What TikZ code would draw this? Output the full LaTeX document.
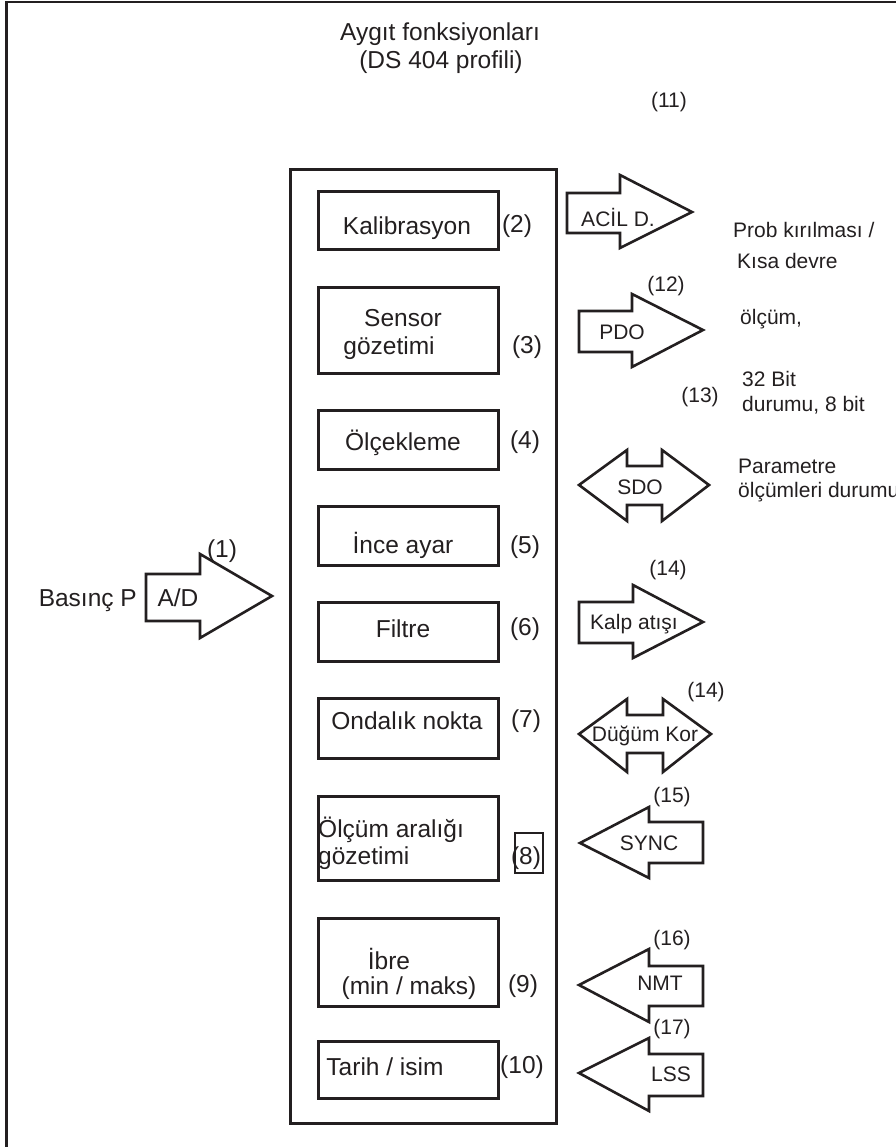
\documentclass[tikz,border=0pt]{standalone}
\usepackage{fontspec}
\setmainfont{Liberation Sans}
\definecolor{ink}{HTML}{231F20}
\newcommand\myRarrow[8]{\draw[arr] (#1,#2) -- (#4,#2) -- (#4,#5) -- (#7,#8) -- (#4,#6) -- (#4,#3) -- (#1,#3) -- cycle;}
\newcommand\myLarrow[8]{\draw[arr] (#1,#2) -- (#3,#4) -- (#3,#5) -- (#8,#5) -- (#8,#6) -- (#3,#6) -- (#3,#7) -- cycle;}
\newcommand\myDarrow[9]{\draw[arr] (#1,#2) -- (#3,#7) -- (#3,#5) -- (#4,#5) -- (#4,#7) -- (#9,#2) -- (#4,#8) -- (#4,#6) -- (#3,#6) -- (#3,#8) -- cycle;}
\begin{document}
\begin{tikzpicture}[x=1pt,y=-1pt,
  bigt/.style={font=\fontsize{24.5}{29}\selectfont, text=ink, inner sep=0pt, text height=17.6pt, text depth=0pt},
  bign/.style={font=\fontsize{24.5}{29}\selectfont, text=ink, inner sep=0pt, text height=17.9pt, text depth=5.1pt},
  smt/.style={font=\fontsize{21}{25}\selectfont, text=ink, inner sep=0pt, text height=15.1pt, text depth=0pt},
  smn/.style={font=\fontsize{21}{25}\selectfont, text=ink, inner sep=0pt, text height=15.3pt, text depth=4.4pt},
  fbox/.style={draw=ink, line width=2.6pt, anchor=north west, minimum width=180pt, inner sep=0pt},
  arr/.style={draw=ink, line width=2.6pt, fill=white, line join=miter}]
\useasboundingbox (0,0) rectangle (895,1147);
% outer frame (top and left)
\draw[draw=ink, line width=2.4pt] (6.5,1150) -- (6.5,2) -- (900,2);
% title
\node[bigt] (title1) at (440,32) {Aygıt fonksiyonları};
\node[bign] (title2) at (441,62) {(DS 404 profili)};
\node[smn] (n11) at (669,102) {(11)};
% main box
\node[draw=ink, line width=2.6pt, anchor=north west, minimum width=266pt, minimum height=954pt, inner sep=0pt] (main) at (289,168) {};
% inner boxes
\node[fbox, minimum height=58pt] (b2) at (317,190) {};
\node[fbox, minimum height=86pt] (b3) at (317,286) {};
\node[fbox, minimum height=59pt] (b4) at (317,409) {};
\node[fbox, minimum height=59pt] (b5) at (317,505) {};
\node[fbox, minimum height=59pt] (b6) at (317,601) {};
\node[fbox, minimum height=60pt] (b7) at (317,697) {};
\node[fbox, minimum height=84pt] (b8) at (317,795) {};
\node[fbox, minimum height=88pt] (b9) at (317,917) {};
\node[fbox, minimum height=57pt] (b10) at (317,1040) {};
% box texts
\node[bigt] (t2) at (407,226) {Kalibrasyon};
\node[bigt] (t3a) at (403,318) {Sensor};
\node[bigt] (t3b) at (389,346) {gözetimi};
\node[bigt] (t4) at (403,442) {Ölçekleme};
\node[bigt] (t5) at (403,545) {İnce ayar};
\node[bigt] (t6) at (403,629) {Filtre};
\node[bigt] (t7) at (407,721) {Ondalık nokta};
\node[bigt, anchor=west] (t8a) at (318,829) {Ölçüm aralığı};
\node[bigt, anchor=west] (t8b) at (318,856) {gözetimi};
\node[bigt] (t9a) at (389,961) {İbre};
\node[bigt] (t9b) at (409,986) {(min / maks)};
\node[bigt] (t10) at (385,1067) {Tarih / isim};
% box numbers
\node[bign] (n2) at (517,226) {(2)};
\node[bign] (n3) at (527,347) {(3)};
\node[bign] (n4) at (525,442) {(4)};
\node[bign] (n5) at (525,547) {(5)};
\node[bign] (n6) at (525,629) {(6)};
\node[bign] (n7) at (526,721) {(7)};
\node[draw=ink, line width=1.5pt, minimum width=28pt, minimum height=40pt, inner sep=0pt] (n8box) at (529,853) {};
\node[bign] (n8) at (526,858) {(8)};
\node[bign] (n9) at (523,986) {(9)};
\node[bign] (n10) at (522,1067) {(10)};
% input arrow
\myRarrow{146}{574}{621}{200}{554}{638}{272}{596}
\node[bigt] (ad) at (178,598) {A/D};
\node[bigt, anchor=east] (basinc) at (137,598) {Basınç P};
\node[bign] (n1) at (222,551) {(1)};
% output arrows
\myRarrow{567}{193}{233}{620}{175}{248}{692}{212}
\node[smt] (acil) at (618,219) {ACİL D.};
\myRarrow{579}{311}{352}{632}{294}{367}{703}{330}
\node[smt] (pdo) at (622,332) {PDO};
\node[smn] (n12) at (666,286) {(12)};
\myDarrow{579}{485}{627}{662}{466}{505}{450}{521}{709}
\node[smt] (sdo) at (640,487) {SDO};
\node[smn] (n13) at (700,397) {(13)};
\myRarrow{579}{602}{643}{633}{585}{658}{703}{622}
\node[smt] (kalp) at (634,622) {Kalp atışı};
\node[smn] (n14a) at (668,570) {(14)};
\myDarrow{579}{734}{627}{663}{715}{753}{699}{772}{711}
\node[smt] (dugum) at (645,734) {Düğüm Kor};
\node[smn] (n14b) at (706,692) {(14)};
\myLarrow{580}{843}{649}{807}{822}{863}{878}{703}
\node[smt] (sync) at (649,843) {SYNC};
\node[smn] (n15) at (672,797) {(15)};
\myLarrow{579}{985}{649}{949}{966}{1006}{1022}{703}
\node[smt] (nmt) at (660,983) {NMT};
\node[smn] (n16) at (672,940) {(16)};
\myLarrow{579}{1073}{649}{1038}{1054}{1096}{1111}{703}
\node[smt] (lss) at (671,1074) {LSS};
\node[smn] (n17) at (672,1029) {(17)};
% side texts
\node[smt, anchor=west] (s1a) at (733,230) {Prob kırılması /};
\node[smt, anchor=west] (s1b) at (737,261) {Kısa devre};
\node[smt, anchor=west] (s2) at (740,317) {ölçüm,};
\node[smt, anchor=west] (s3a) at (742,379) {32 Bit};
\node[smt, anchor=west] (s3b) at (742,404) {durumu, 8 bit};
\node[smt, anchor=west] (s4a) at (738,466) {Parametre};
\node[smt, anchor=west] (s4b) at (738,490) {ölçümleri durumu};
\end{tikzpicture}
\end{document}
